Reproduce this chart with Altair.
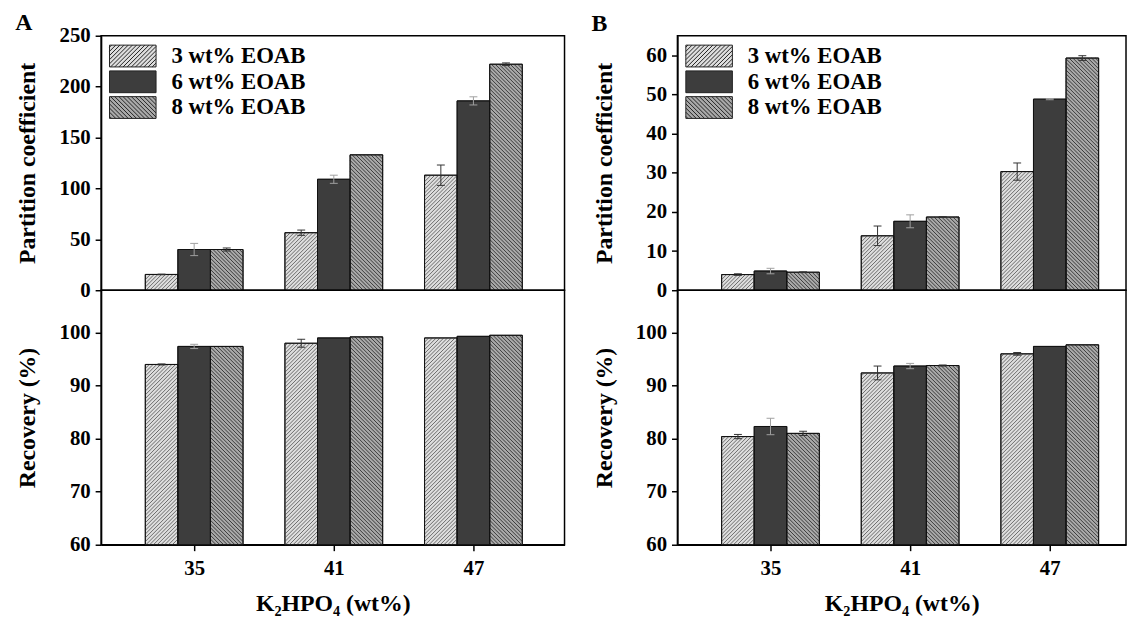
import altair as alt
import pandas as pd

# ---------------- data ----------------
CATEGORIES = [35, 41, 47]
SERIES = ["3 wt% EOAB", "6 wt% EOAB", "8 wt% EOAB"]

# Panel A - partition coefficient
A_PC_3 = [15.5, 56.5, 113.0]
A_PC_3_ERR = [0.3, 2.6, 10.0]
A_PC_6 = [40.0, 109.0, 186.0]
A_PC_6_ERR = [6.0, 4.0, 4.0]
A_PC_8 = [40.0, 133.0, 222.0]
A_PC_8_ERR = [1.5, 0.0, 1.3]
# Panel A - recovery (%)
A_REC_3 = [94.0, 98.0, 99.0]
A_REC_3_ERR = [0.1, 0.75, 0.0]
A_REC_6 = [97.4, 99.0, 99.3]
A_REC_6_ERR = [0.4, 0.0, 0.0]
A_REC_8 = [97.4, 99.2, 99.5]
A_REC_8_ERR = [0.0, 0.0, 0.0]
# Panel B - partition coefficient
B_PC_3 = [4.0, 13.9, 30.3]
B_PC_3_ERR = [0.2, 2.5, 2.2]
B_PC_6 = [4.9, 17.6, 48.8]
B_PC_6_ERR = [0.7, 1.65, 0.15]
B_PC_8 = [4.6, 18.7, 59.3]
B_PC_8_ERR = [0.1, 0.1, 0.6]
# Panel B - recovery (%)
B_REC_3 = [80.4, 92.4, 96.0]
B_REC_3_ERR = [0.4, 1.3, 0.25]
B_REC_6 = [82.3, 93.7, 97.4]
B_REC_6_ERR = [1.55, 0.5, 0.0]
B_REC_8 = [81.0, 93.8, 97.7]
B_REC_8_ERR = [0.4, 0.1, 0.0]

# ---------------- layout / style ----------------
FONT = "Liberation Serif"
FILLS = ["#dedede", "#3d3d3d", "#a9a9a9"]
LINE3 = "#6a6a6a"
LINE8 = "#3a3a3a"
A_WIDTH = 468
B_WIDTH = 453
TOP_H = 257
BOT_H = 257
PX_PER_X = 23.5          # pixels per wt% unit on the x axis
BAR_W = 1.4              # bar width in x units
CAP_HALF = 0.17          # error bar cap half-width in x units
X_MIN = 31.0
HATCH_STEP = 3.8         # px between hatch lines


def bars_table(vals, errs, ymin):
    rows = []
    for j, s in enumerate(SERIES):
        for i, c in enumerate(CATEGORIES):
            v = vals[j][i]
            e = errs[j][i]
            xc = c + (j - 1) * BAR_W
            rows.append(dict(cat=c, series=s, j=j, value=v, err=e, base=ymin,
                             xl=xc - BAR_W / 2, xr=xc + BAR_W / 2, xc=xc,
                             lo=v - e, hi=v + e,
                             capl=xc - CAP_HALF, capr=xc + CAP_HALF))
    return pd.DataFrame(rows)


def hatch_table(df, ymin, ppy):
    rows = []
    w = BAR_W * PX_PER_X
    for r in df.itertuples():
        if r.j == 1:
            continue
        H = (r.value - ymin) * ppy
        segs = []
        if r.j == 0:   # "/" lines : y = x + c
            c = -w + HATCH_STEP / 2
            while c < H:
                x0 = max(0.0, -c)
                x1 = min(w, H - c)
                if x1 > x0:
                    segs.append((x0, x0 + c, x1, x1 + c))
                c += HATCH_STEP
        else:          # "\" lines : y = c - x
            c = HATCH_STEP / 2
            while c < H + w:
                x0 = max(0.0, c - H)
                x1 = min(w, c)
                if x1 > x0:
                    segs.append((x0, c - x0, x1, c - x1))
                c += HATCH_STEP
        for (a, b, d, e) in segs:
            rows.append(dict(j=r.j, hx1=r.xl + a / PX_PER_X, hy1=ymin + b / ppy,
                             hx2=r.xl + d / PX_PER_X, hy2=ymin + e / ppy))
    return pd.DataFrame(rows)


def swatch_path(kind, W=47.0, H=22.0, r=12.0, step=4.2):
    # swatch drawn from the legend entry's left edge (x = -r) rightwards
    hw, hh = W / 2, H / 2
    sx = hw - r

    def P(x, y):
        return f"{(x + sx)/r:.3f},{y/r:.3f}"

    p = f"M{P(-hw, -hh)}L{P(hw, -hh)}L{P(hw, hh)}L{P(-hw, hh)}Z"
    if kind == 1:
        return p
    c = -(hw + hh) + step / 2
    while c < hw + hh:
        if kind == 0:  # "/" in screen: x + y = c
            xa, ya = c - hh, hh
            xb, yb = c + hh, -hh
            if xa < -hw:
                xa, ya = -hw, c + hw
            if xb > hw:
                xb, yb = hw, c - hw
        else:          # "\" in screen: x - y = c
            xa, ya = c - hh, -hh
            xb, yb = c + hh, hh
            if xa < -hw:
                xa, ya = -hw, -hw - c
            if xb > hw:
                xb, yb = hw, hw - c
        if xb > xa:
            p += f" M{P(xa, ya)}L{P(xb, yb)}"
        c += step
    return p


SHAPES = [swatch_path(0), swatch_path(1), swatch_path(2)]


def panel(vals, errs, ydom, yvals, ytitle, height, width, top):
    df = bars_table(vals, errs, ydom[0])
    ppy = height / (ydom[1] - ydom[0])
    hatch = hatch_table(df, ydom[0], ppy)
    xdom = [X_MIN, X_MIN + width / PX_PER_X]
    xs = alt.Scale(domain=xdom, nice=False, zero=False)
    ys = alt.Scale(domain=ydom, nice=False, zero=False)
    if top:
        xaxis = None
    else:
        xaxis = alt.Axis(values=CATEGORIES, format="d", title="K₂HPO₄ (wt%)",
                         titlePadding=13, labelPadding=7)
    yaxis = alt.Axis(values=yvals, title=ytitle, titleX=-74, titleBaseline="middle",
                     labelPadding=5)
    cscale = alt.Scale(domain=SERIES, range=FILLS)
    if top:
        leg = alt.Legend(title=None, orient="top-left", offset=8,
                         labelFont=FONT, labelFontSize=23, labelFontWeight="bold",
                         labelColor="black", symbolSize=576,
                         symbolStrokeWidth=1,
                         symbolOpacity=1, labelOffset=38, rowPadding=-1, padding=0)
    else:
        leg = None

    def X(f):
        return alt.X(f, scale=xs, axis=xaxis)

    def Y(f):
        return alt.Y(f, scale=ys, axis=yaxis)

    base = alt.Chart(df)
    bars = base.mark_bar(stroke="#222222", strokeWidth=1).encode(
        x=X("xl:Q"), x2="xr:Q", y=Y("value:Q"), y2="base:Q",
        color=alt.Color("series:N", scale=cscale, legend=leg))
    hatch_layer = alt.Chart(hatch).mark_rule(strokeWidth=1).encode(
        x=X("hx1:Q"), x2="hx2:Q", y=Y("hy1:Q"), y2="hy2:Q",
        color=alt.condition("datum.j == 0", alt.value(LINE3), alt.value(LINE8)))
    outline = base.mark_bar(fillOpacity=0, stroke="#111111", strokeWidth=1).encode(
        x=X("xl:Q"), x2="xr:Q", y=Y("value:Q"), y2="base:Q")
    errc = alt.condition("datum.j == 1", alt.value("#a0a0a0"), alt.value("#333333"))
    eb = base.transform_filter("datum.err > 0")
    err_v = eb.mark_rule(strokeWidth=1).encode(
        x=X("xc:Q"), y=Y("lo:Q"), y2="hi:Q", color=errc)
    err_lo = eb.mark_rule(strokeWidth=1).encode(
        x=X("capl:Q"), x2="capr:Q", y=Y("lo:Q"), color=errc)
    err_hi = eb.mark_rule(strokeWidth=1).encode(
        x=X("capl:Q"), x2="capr:Q", y=Y("hi:Q"), color=errc)
    layers = [bars, hatch_layer, outline, err_v, err_lo, err_hi]
    if top:
        pts = base.mark_point(filled=True, opacity=0).encode(
            x=X("xc:Q"), y=Y("value:Q"),
            color=alt.Color("series:N", scale=cscale, legend=leg),
            shape=alt.Shape("series:N", scale=alt.Scale(domain=SERIES, range=SHAPES), legend=leg),
            stroke=alt.Stroke("series:N",
                              scale=alt.Scale(domain=SERIES, range=["#222222"] * 3),
                              legend=leg))
        layers.append(pts)
    return alt.layer(*layers).properties(width=width, height=height)


def column(label, title_offset, top_vals, top_errs, top_dom, top_ticks, bot_vals, bot_errs, width):
    top = panel(top_vals, top_errs, top_dom, top_ticks, "Partition coefficient", TOP_H, width, True)
    bot = panel(bot_vals, bot_errs, [60, 108], [60, 70, 80, 90, 100], "Recovery (%)", BOT_H, width, False)
    return alt.vconcat(top, bot, spacing=0, bounds="flush",
                       title=alt.Title(label, anchor="start", font=FONT, fontSize=24,
                                       fontWeight="bold", color="black", offset=title_offset)
                       ).resolve_scale(color="independent", shape="independent", stroke="independent"
                       ).resolve_legend(color="independent", shape="independent", stroke="independent")


colA = column("A", -11,
              [A_PC_3, A_PC_6, A_PC_8], [A_PC_3_ERR, A_PC_6_ERR, A_PC_8_ERR],
              [0, 250], [0, 50, 100, 150, 200, 250],
              [A_REC_3, A_REC_6, A_REC_8], [A_REC_3_ERR, A_REC_6_ERR, A_REC_8_ERR],
              A_WIDTH)
colB = column("B", -1,
              [B_PC_3, B_PC_6, B_PC_8], [B_PC_3_ERR, B_PC_6_ERR, B_PC_8_ERR],
              [0, 65], [0, 10, 20, 30, 40, 50, 60],
              [B_REC_3, B_REC_6, B_REC_8], [B_REC_3_ERR, B_REC_6_ERR, B_REC_8_ERR],
              B_WIDTH)

chart = alt.hconcat(colA, colB, spacing=26).resolve_scale(
    color="independent", shape="independent", stroke="independent").resolve_legend(
    color="independent", shape="independent", stroke="independent").properties(
    padding={"left": 7, "top": 0, "right": 0, "bottom": 0}
).configure(background="white").configure_view(
    stroke="black", strokeWidth=1.5
).configure_axis(
    labelFont=FONT, labelFontSize=21, labelFontWeight="bold", labelColor="black",
    titleFont=FONT, titleFontSize=24, titleFontWeight="bold", titleColor="black",
    domainColor="black", domainWidth=1.5, tickColor="black", tickWidth=1.5,
    tickSize=6, grid=False
)

chart.save("out.html", embed_options={"renderer": "svg", "actions": False})
